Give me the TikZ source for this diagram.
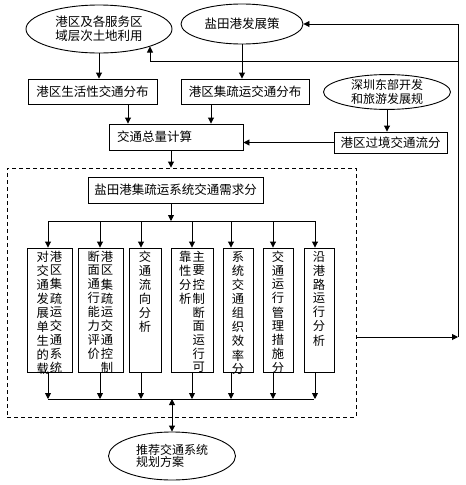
\documentclass[tikz,border=0pt]{standalone}
\usepackage{fontspec}
\setmainfont{Noto Sans CJK SC}
\usetikzlibrary{shapes.geometric,arrows.meta}
\newcommand{\vc}[1]{\begin{tabular}[t]{@{}c@{}}#1\end{tabular}}
\newcommand{\vbody}[2]{\parbox[c][118pt][t]{#1}{\centering #2}}
\tikzset{
  base/.style={line width=0.9pt},
  box/.style={base, draw, inner sep=0pt, font=\fontsize{12.5}{14}\selectfont},
  vbox/.style={base, draw, inner sep=3pt, font=\fontsize{12.3}{12.7}\selectfont},
  oval/.style={base, draw, ellipse, inner sep=0pt, align=center, font=\fontsize{12.5}{14}\selectfont},
  frame/.style={base, draw, dashed, dash pattern=on 4pt off 3pt, inner sep=0pt},
  arr/.style={base, -{Triangle[length=6pt,width=6pt]}},
  darr/.style={base, {Triangle[length=6pt,width=6pt]}-{Triangle[length=6pt,width=6pt]}},
  ln/.style={base}
}
\begin{document}
\begin{tikzpicture}[x=1pt,y=-1pt]
\useasboundingbox (0,0) rectangle (466,485);
% ellipses
\node[oval, minimum width=146pt, minimum height=48pt] (e1) at (99,29) {港区及各服务区\\域层次土地利用};
\node[oval, minimum width=122pt, minimum height=40pt] (e2) at (242,24) {盐田港发展策};
\node[oval, minimum width=127pt, minimum height=33pt, font=\fontsize{12}{13.5}\selectfont] (e3) at (387,92) {深圳东部开发\\和旅游发展规};
\node[oval, minimum width=127pt, minimum height=48pt, align=left, font=\fontsize{12}{12.5}\selectfont] (e4) at (172,456) {推荐交通系统\\规划方案};
% boxes
\node[box, minimum width=129pt, minimum height=25pt] (b1) at (92.5,91.5) {港区生活性交通分布};
\node[box, minimum width=128pt, minimum height=25pt] (b2) at (245,91.5) {港区集疏运交通分布};
\node[box, minimum width=134pt, minimum height=26pt, text width=118pt, align=left] (b3) at (176,137) {交通总量计算};
\node[box, minimum width=113pt, minimum height=21pt] (b4) at (390.5,142.5) {港区过境交通流分};
\node[frame, minimum width=349pt, minimum height=249pt] (fr) at (181.5,292.5) {};
\node[box, minimum width=175pt, minimum height=26pt] (b5) at (175.5,190) {盐田港集疏运系统交通需求分};
% vertical boxes
\node[vbox] (v1) at (49.5,310) {\vbody{39pt}{\vc{对\\交\\通\\发\\展\\单\\生\\的\\载}\hspace{1pt}\vc{港\\区\\集\\疏\\运\\交\\通\\系\\统}}};
\node[vbox] (v2) at (100.5,310) {\vbody{39pt}{\vc{断\\面\\通\\行\\能\\力\\评\\价}\hspace{1pt}\vc{港\\区\\集\\疏\\运\\交\\通\\控\\制}}};
\node[vbox] (v3) at (145,310) {\vbody{26pt}{\vc{交\\通\\流\\向\\分\\析}}};
\node[vbox] (v4) at (192,310) {\vbody{36pt}{\vc{靠\\性\\分\\析}\hspace{1pt}\vc{主\\要\\控\\制\\断\\面\\运\\行\\可}}};
\node[vbox] (v5) at (238,310) {\vbody{24pt}{\vc{系\\统\\交\\通\\组\\织\\效\\率\\分}}};
\node[vbox] (v6) at (278,310) {\vbody{24pt}{\vc{交\\通\\运\\行\\管\\理\\措\\施\\分}}};
\node[vbox] (v7) at (319,310) {\vbody{24pt}{\vc{沿\\港\\路\\运\\行\\分\\析}}};
% coordinates
\coordinate (tl) at (48,221);
\coordinate (tr) at (315,221);
\coordinate (bl) at (48,399);
\coordinate (br) at (314,399);
\coordinate (t1) at (48,221);
\coordinate (t2) at (100,221);
\coordinate (t3) at (141,221);
\coordinate (t4) at (192,221);
\coordinate (t5) at (231,221);
\coordinate (t6) at (273,221);
\coordinate (t7) at (315,221);
\coordinate (mid) at (172,399);
\coordinate (rb) at (458,337);
\coordinate (rm) at (458,61);
\coordinate (k) at (150,61);
\coordinate (e1hit) at (150,46.5);
% top connectors
\draw[arr] (e1.south) -- (e1.south |- b1.north);
\draw[arr] (e2.south) -- (e2.south |- b2.north);
\draw[arr] ([xshift=35.5pt]b1.south) -- ([xshift=35.5pt]b1.south |- b3.north);
\draw[arr] ([xshift=-34pt]b2.south) -- ([xshift=-34pt]b2.south |- b3.north);
\draw[arr] (e3.south) -- (e3.south |- b4.north);
\draw[arr] (b4.west) -- (b4.west -| b3.east);
\draw[arr] ([xshift=-5pt]b3.south) -- ([xshift=-5pt]b3.south |- fr.north);
\draw[arr] ([xshift=-4.5pt]b5.south) -- ([xshift=-4.5pt]b5.south |- tl);
% buses
\draw[ln] (tl) -- (tr);
\draw[ln] (bl) -- (br);
\foreach \i in {1,...,7}{
  \draw[arr] (t\i) -- (t\i |- v\i.north);
  \draw[arr] (t\i |- v\i.south) -- (t\i |- bl);
}
\draw[darr] (mid) -- (e4.north);
% feedback
\draw[arr] (fr.east |- rb) -- (rb);
\draw[arr] (rb) -- (rb |- e2.east) -- (e2.east);
\draw[arr] (rm) -- (k) -- (e1hit);
\end{tikzpicture}
\end{document}
